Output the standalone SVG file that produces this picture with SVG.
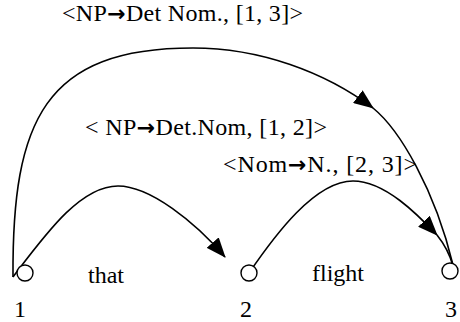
<svg xmlns="http://www.w3.org/2000/svg" width="460" height="322" viewBox="0 0 460 322">
<style>
text{font-family:"Liberation Serif","Times New Roman",serif;font-size:24px;fill:#000}
.arr{font-family:"DejaVu Sans",sans-serif;font-weight:bold;font-size:22px}
.node{fill:#fff;stroke:#000;stroke-width:1.4}
.edge{fill:none;stroke:#000;stroke-width:1.6}
</style>
<defs>
<marker id="ah" viewBox="0 0 20 16" refX="19" refY="8" markerWidth="20" markerHeight="16" markerUnits="userSpaceOnUse" orient="auto">
<path d="M0,0 L20,8 L0,16 Z" fill="#000"/>
</marker>
</defs>
<rect width="460" height="322" fill="#fff"/>
<g id="connectors">
<path class="edge" d="M13,277 C12,120 45,48 193,48 C260,48 325,72 373,108" marker-end="url(#ah)"/>
<path class="edge" d="M373,108 C400,130 435,190 453,265"/>
<path class="edge" d="M13,277 C45,235 80,186 118,186 C150,186 195,222 225,257" marker-end="url(#ah)"/>
<path class="edge" d="M249,273 C275,235 315,181 353,181 C385,181 418,215 437,235" marker-end="url(#ah)"/>
<path class="edge" d="M437,235 C445,245 450,255 453,266"/>
</g>
<g id="node1"><circle class="node" cx="25" cy="273" r="8"/><text x="14" y="317">1</text></g>
<g id="node2"><circle class="node" cx="249" cy="273" r="8"/><text x="240" y="317">2</text></g>
<g id="node3"><circle class="node" cx="450" cy="271" r="8"/><text x="445" y="317">3</text></g>
<g id="labels">
<text x="62" y="21" textLength="241" lengthAdjust="spacing">&lt;NP<tspan class="arr">→</tspan>Det Nom., [1, 3]&gt;</text>
<text x="85" y="135" textLength="242" lengthAdjust="spacing">&lt; NP<tspan class="arr">→</tspan>Det.Nom, [1, 2]&gt;</text>
<text x="223" y="172" textLength="194" lengthAdjust="spacing">&lt;Nom<tspan class="arr">→</tspan>N., [2, 3]&gt;</text>
<text x="88" y="283">that</text>
<text x="312" y="281">flight</text>
</g>
</svg>
